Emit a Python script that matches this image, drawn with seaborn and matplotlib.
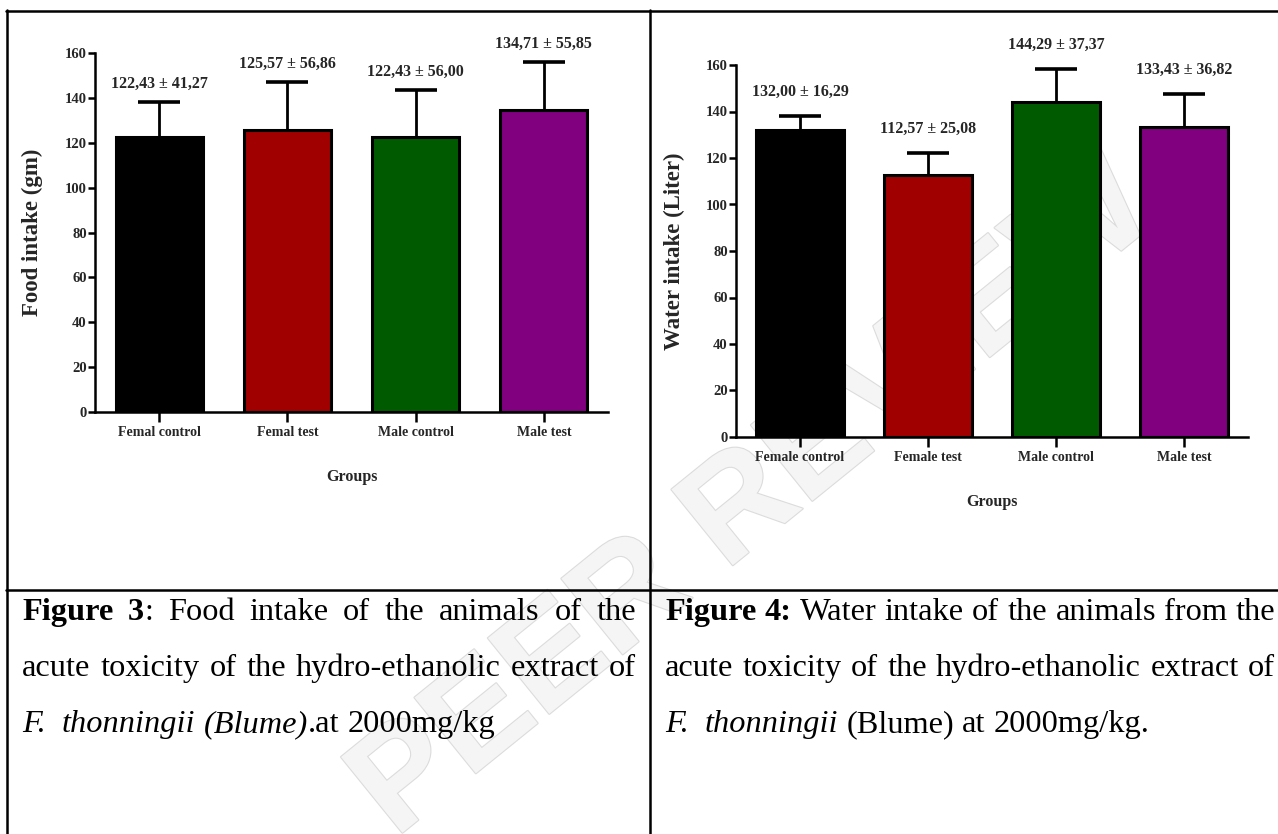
import numpy as np
import pandas as pd
import matplotlib
matplotlib.use("Agg")
import matplotlib.pyplot as plt
import matplotlib.patheffects as pe
from matplotlib.lines import Line2D
import seaborn as sns

# data (mean, SD shown in labels, SEM drawn as error bar)
food_groups = ["Femal control", "Femal test", "Male control", "Male test"]
food_mean = [122.43, 125.57, 122.43, 134.71]
food_sd = [41.27, 56.86, 56.00, 55.85]
food_sem = [15.6, 21.5, 21.2, 21.1]

water_groups = ["Female control", "Female test", "Male control", "Male test"]
water_mean = [132.00, 112.57, 144.29, 133.43]
water_sd = [16.29, 25.08, 37.37, 36.82]
water_sem = [6.2, 9.5, 14.1, 13.9]

y_ticks = [0, 20, 40, 60, 80, 100, 120, 140, 160]
bar_colors = ["#000000", "#a00000", "#005a00", "#800080"]

left_caption = [
    [("Figure 3", "b"), (": Food intake of the animals of the", "r")],
    [("acute toxicity of the hydro-ethanolic extract of", "r")],
    [("F.  thonningii (Blume)", "i"), (".at 2000mg/kg", "r")],
]
right_caption = [
    [("Figure 4:", "b"), (" Water intake of the animals from the", "r")],
    [("acute toxicity of the hydro-ethanolic extract of", "r")],
    [("F.  thonningii", "i"), (" (Blume) at 2000mg/kg.", "r")],
]

W, H = 1278, 834
sns.set_theme(style="ticks")
plt.rcParams["font.family"] = ["Liberation Serif", "DejaVu Serif"]
plt.rcParams["font.weight"] = "bold"
plt.rcParams["axes.labelweight"] = "bold"

fig = plt.figure(figsize=(W / 100, H / 100), dpi=100)
fig.patch.set_facecolor("white")


def px_rect(left, top, right, bottom):
    return [left / W, 1 - bottom / H, (right - left) / W, (bottom - top) / H]


def fmt(v):
    return f"{v:.2f}".replace(".", ",")


def draw_panel(ax, groups, mean, sd, sem, ylabel, gap):
    df = pd.DataFrame({"group": groups, "mean": mean})
    sns.barplot(data=df, x="group", y="mean", hue="group", palette=bar_colors,
                saturation=1, width=0.68, edgecolor="black", linewidth=2.2,
                errorbar=None, legend=False, ax=ax)
    eb = ax.errorbar(np.arange(len(groups)), mean, yerr=[np.zeros(len(sem)), sem],
                     fmt="none", ecolor="black", elinewidth=2, capsize=15, capthick=2.6)
    # only the upper half is drawn, so drop the cap sitting on the bar top
    eb[1][0].set_visible(False)
    for i, (m, s, e) in enumerate(zip(mean, sd, sem)):
        ax.text(i, m + e + gap, f"{fmt(m)} ± {fmt(s)}", ha="center", va="bottom",
                fontsize=11.5, fontweight="bold")
    ax.set_xlim(-0.5, 3.5)
    ax.set_ylim(0, 160)
    ax.set_yticks(y_ticks)
    ax.set_ylabel(ylabel, fontsize=16.5, fontweight="bold")
    ax.set_xlabel("Groups", fontsize=11.5, fontweight="bold")
    ax.tick_params(axis="y", length=5, width=1.8, pad=1, labelsize=10.5, color="black")
    ax.tick_params(axis="x", length=7, width=1.8, pad=3, labelsize=10, color="black")
    for lab in ax.get_xticklabels() + ax.get_yticklabels():
        lab.set_fontweight("bold")
    sns.despine(ax=ax)
    for side in ["left", "bottom"]:
        ax.spines[side].set_linewidth(1.8)
        ax.spines[side].set_color("black")
    ax.patch.set_alpha(0)


ax1 = fig.add_axes(px_rect(95, 53, 608, 412))
draw_panel(ax1, food_groups, food_mean, food_sd, food_sem, "Food intake (gm)", 4.5)
ax1.yaxis.set_label_coords(-52 / 513, 0.5)
ax1.xaxis.set_label_coords(0.5, -57 / 359)

ax2 = fig.add_axes(px_rect(736, 65, 1248, 437))
draw_panel(ax2, water_groups, water_mean, water_sd, water_sem, "Water intake (Liter)", 7)
ax2.yaxis.set_label_coords(-51 / 512, 0.5)
ax2.xaxis.set_label_coords(0.5, -57 / 372)


# table lines
def hline(y, x0, x1):
    fig.add_artist(Line2D([x0 / W, x1 / W], [1 - y / H, 1 - y / H], color="black", lw=1.8))


def vline(x, y0, y1):
    fig.add_artist(Line2D([x / W, x / W], [1 - y0 / H, 1 - y1 / H], color="black", lw=1.8))


hline(11, 6, W)
hline(590, 6, W)
vline(7, 10, H)
vline(650, 10, H)

# faint watermark behind everything
fig.text(0.59, 0.40, "PEER REVIEW", rotation=39, fontsize=102, fontweight="bold",
         family="Liberation Sans", color="#f5f5f5", ha="center", va="center", zorder=-1,
         path_effects=[pe.withStroke(linewidth=1.6, foreground="#dcdcdc")])

# captions, justified like the word processor did
cap_size = 23.3
styles = {"b": dict(fontweight="bold", fontstyle="normal"),
          "r": dict(fontweight="normal", fontstyle="normal"),
          "i": dict(fontweight="normal", fontstyle="italic")}
renderer = fig.canvas.get_renderer()


def split_words(runs):
    words = [[]]
    for text, st in runs:
        for k, part in enumerate(text.split(" ")):
            if k > 0:
                words.append([])
            if part:
                words[-1].append((part, st))
    return words


def draw_caption(lines, x0, x1, baselines):
    space = 0.25 * cap_size * 100 / 72
    for n, (runs, yb) in enumerate(zip(lines, baselines)):
        words = split_words(runs)
        objs, widths = [], []
        for word in words:
            pieces = []
            wsum = 0
            for part, st in word:
                t = fig.text(0, 1 - yb / H, part, fontsize=cap_size, va="baseline",
                             ha="left", family="Liberation Serif", color="black", **styles[st])
                w = t.get_window_extent(renderer).width
                pieces.append((t, w))
                wsum += w
            objs.append(pieces)
            widths.append(wsum)
        if n < len(lines) - 1:
            gap = (x1 - x0 - sum(widths)) / (len(words) - 1)
        else:
            gap = space
        x = x0
        for pieces, wsum in zip(objs, widths):
            xx = x
            for t, w in pieces:
                t.set_x(xx / W)
                xx += w
            x += wsum + gap


draw_caption(left_caption, 22, 636, [620, 676, 732])
draw_caption(right_caption, 665, 1275, [620, 676, 732])

fig.savefig("out.png", dpi=100, facecolor="white")
